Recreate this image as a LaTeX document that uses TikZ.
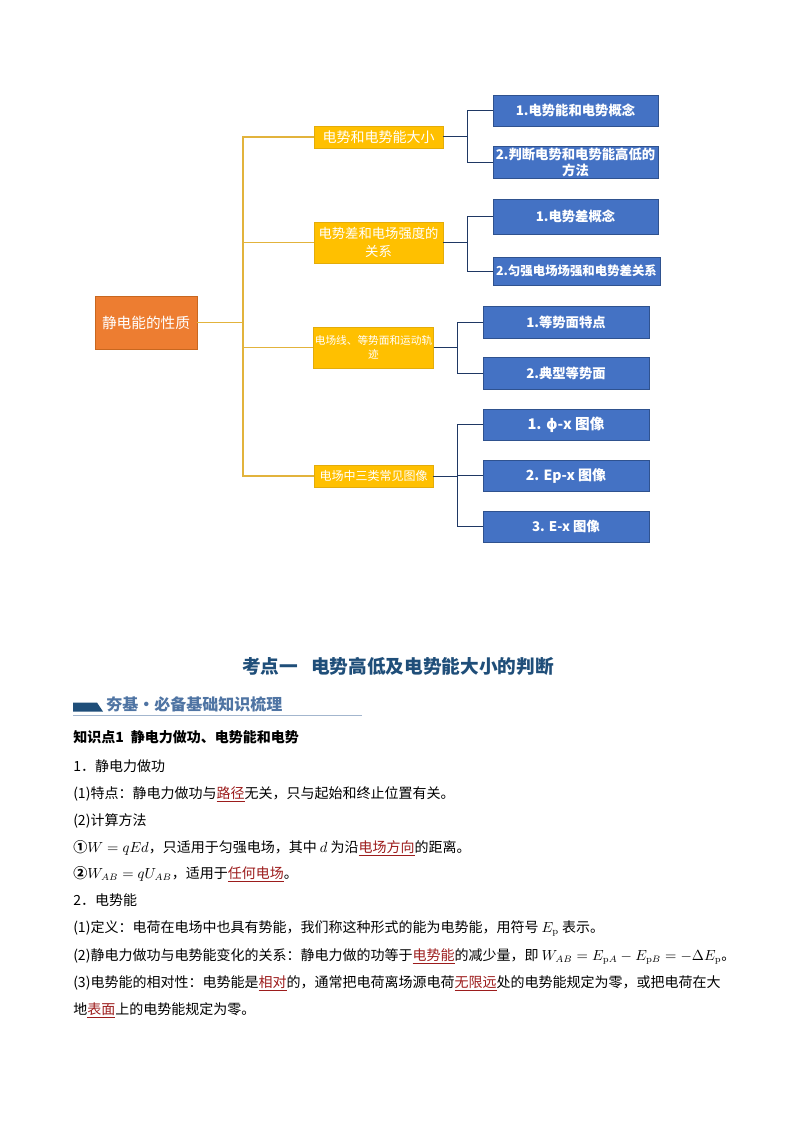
\documentclass[tikz,border=0pt]{standalone}
\usepackage[no-math]{fontspec}
\setmainfont{Noto Sans CJK SC}
\newfontfamily\greekfont{DejaVu Sans}
\usepackage{xcolor}
\definecolor{rootorange}{HTML}{ED7D31}
\definecolor{rootedge}{HTML}{C8671F}
\definecolor{topicyellow}{HTML}{FFC000}
\definecolor{topicedge}{HTML}{E3AC0A}
\definecolor{leafblue}{HTML}{4472C4}
\definecolor{leafedge}{HTML}{2F528F}
\definecolor{goldline}{HTML}{E2B33C}
\definecolor{navyline}{HTML}{1F3864}
\definecolor{titleblue}{HTML}{1F4E79}
\definecolor{bannerblue}{HTML}{4F74A3}
\definecolor{rulegray}{HTML}{A3B6CE}
\definecolor{keyred}{HTML}{9C1C1C}
\newcommand{\kw}[1]{\textcolor{keyred}{\underline{#1}}}

\begin{document}
\begin{tikzpicture}[x=0.75pt, y=-0.75pt,
    box/.style={draw, inner sep=1pt, align=center, text=white},
    rootbox/.style={box, fill=rootorange, draw=rootedge, minimum width=76.5pt, minimum height=39.75pt, font=\fontsize{11}{13}\selectfont},
    topicbox/.style={box, fill=topicyellow, draw=topicedge, minimum width=96.75pt},
    leafbox/.style={box, fill=leafblue, draw=leafedge, line width=0.6pt, minimum width=123.75pt, minimum height=23.25pt, font=\fontsize{10}{13}\selectfont\bfseries},
    yline/.style={goldline, line width=0.9pt},
    bline/.style={navyline, line width=0.75pt},
    textline/.style={anchor=base west, inner sep=0pt, font=\fontsize{10.5}{12}\selectfont}
]
\useasboundingbox (0,0) rectangle (794,1123);

% mind map
\node[rootbox] (root) at (146,322.5) {静电能的性质};

\node[topicbox, minimum height=16.5pt, font=\fontsize{10.5}{13}\selectfont] (potential) at (378.5,137) {电势和电势能大小};
\node[topicbox, minimum height=30.75pt, font=\fontsize{10}{13}\selectfont] (relation) at (378.5,242.5) {电势差和电场强度的\\关系};
\node[topicbox, minimum width=89.25pt, minimum height=30.75pt, font=\fontsize{8}{10.5}\selectfont] (fieldline) at (373.5,347.5) {电场线、等势面和运动轨\\迹};
\node[topicbox, minimum width=89.25pt, minimum height=16.5pt, font=\fontsize{9}{11}\selectfont] (graphs) at (373.5,476) {电场中三类常见图像};

\node[leafbox] (concept) at (575.5,110.5) {1.电势能和电势概念};
\node[leafbox, font=\fontsize{10}{12.5}\selectfont\bfseries] (judge) at (575.5,162.5) {2.判断电势和电势能高低的\\方法};
\node[leafbox, minimum height=26.25pt] (pdiff) at (575.5,216.5) {1.电势差概念};
\node[leafbox, minimum width=125.25pt, minimum height=21pt, font=\fontsize{9.3}{11}\selectfont\bfseries] (uniform) at (576.5,271) {2.匀强电场场强和电势差关系};
\node[leafbox, minimum width=124.5pt, minimum height=24pt] (eqsurf) at (566,322) {1.等势面特点};
\node[leafbox, minimum width=124.5pt, minimum height=24pt] (typical) at (566,373) {2.典型等势面};
\node[leafbox, minimum width=124.5pt, font=\fontsize{11}{13}\selectfont\bfseries] (phix) at (566,424.5) {1. {\greekfont\bfseries ϕ}-x 图像};
\node[leafbox, minimum width=124.5pt, font=\fontsize{10.5}{13}\selectfont\bfseries] (epx) at (566,475.5) {2. Ep-x 图像};
\node[leafbox, minimum width=124.5pt] (ex) at (566,526.5) {3. E-x 图像};

\coordinate (trunk) at (243,322.5);
\coordinate (potj) at (467,137);
\coordinate (relj) at (467,242.5);
\coordinate (linej) at (457,347.5);
\coordinate (graphj) at (457,476);

\draw[yline] (root.east) -- (trunk);
\draw[yline] (potential.west) -- (potential.west -| trunk) -- (graphs.west -| trunk) -- (graphs.west);
\draw[yline] (relation.west) -- (relation.west -| trunk);
\draw[yline] (fieldline.west) -- (fieldline.west -| trunk);

\draw[bline] (potential.east) -- (potential.east -| potj);
\draw[bline] (concept.west) -- (concept.west -| potj) -- (judge.west -| potj) -- (judge.west);
\draw[bline] (relation.east) -- (relation.east -| relj);
\draw[bline] (pdiff.west) -- (pdiff.west -| relj) -- (uniform.west -| relj) -- (uniform.west);
\draw[bline] (fieldline.east) -- (fieldline.east -| linej);
\draw[bline] (eqsurf.west) -- (eqsurf.west -| linej) -- (typical.west -| linej) -- (typical.west);
\draw[bline] (graphs.east) -- (graphs.east -| graphj);
\draw[bline] (phix.west) -- (phix.west -| graphj) -- (ex.west -| graphj) -- (ex.west);
\draw[bline] (epx.west) -- (epx.west -| graphj);

% heading and banner
\node[font=\fontsize{14}{16}\selectfont\bfseries, text=titleblue] (title) at (398,666) {考点一\hspace{0.7em}电势高低及电势能大小的判断};
\fill[titleblue] (73,702.5) -- (97,702.5) -- (103,711.5) -- (73,711.5) -- cycle;
\draw[rulegray, line width=1pt] (73,715.5) -- (362,715.5);
\node[anchor=west, inner sep=0pt, font=\fontsize{12}{14}\selectfont\bfseries, text=bannerblue] (banner) at (106,704.5) {夯基・必备基础知识梳理};

% notes
\node[textline, font=\fontsize{10.5}{12}\selectfont\bfseries] (point) at (73,742) {知识点1\hspace{0.5em}静电力做功、电势能和电势};
\node[textline] (work) at (73,771) {1．静电力做功};
\node[textline] (feature) at (73,798) {(1)特点：静电力做功与\kw{路径}无关，只与起始和终止位置有关。};
\node[textline] (method) at (73,825) {(2)计算方法};
\node[textline] (first) at (73,852) {{\bfseries ①}$W=qEd$，只适用于匀强电场，其中 $d$ 为沿\kw{电场方向}的距离。};
\node[textline] (second) at (73,878) {{\bfseries ②}$W_{AB}=qU_{AB}$，适用于\kw{任何电场}。};
\node[textline] (energy) at (73,905) {2．电势能};
\node[textline] (define) at (73,932) {(1)定义：电荷在电场中也具有势能，我们称这种形式的能为电势能，用符号 $E_{\mathrm{p}}$ 表示。};
\node[textline] (change) at (73,960) {(2)静电力做功与电势能变化的关系：静电力做的功等于\kw{电势能}的减少量，即 $W_{AB}=E_{\mathrm{p}A}-E_{\mathrm{p}B}=-\Delta E_{\mathrm{p}}$。};
\node[textline] (relative) at (73,987) {(3)电势能的相对性：电势能是\kw{相对}的，通常把电荷离场源电荷\kw{无限远}处的电势能规定为零，或把电荷在大};
\node[textline] (ground) at (73,1014) {地\kw{表面}上的电势能规定为零。};
\end{tikzpicture}
\end{document}
